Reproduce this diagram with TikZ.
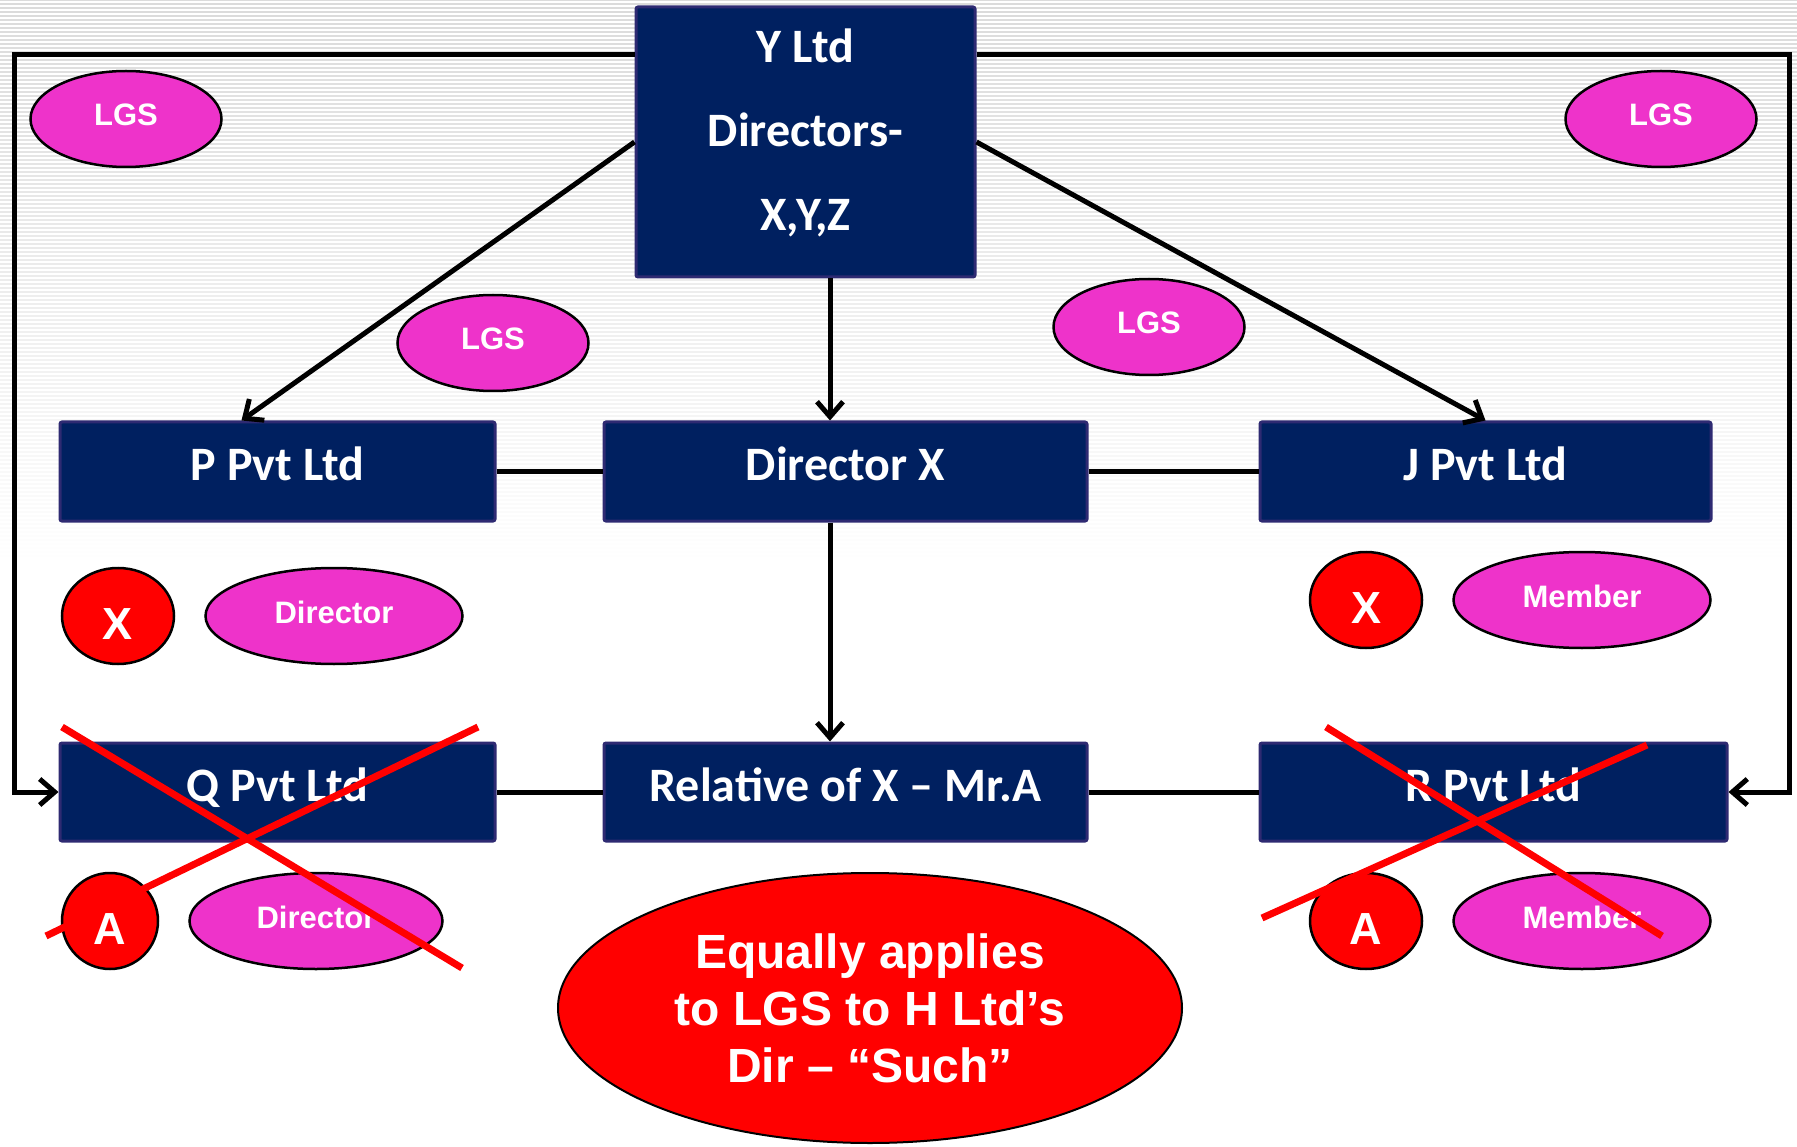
\documentclass[tikz,border=0pt]{standalone}
\usepackage{fontspec}
\setmainfont{Liberation Sans}
\newfontfamily\boxfont{Carlito}
\usetikzlibrary{arrows.meta,calc,shapes.geometric}
\definecolor{navy}{HTML}{002060}
\definecolor{navyedge}{HTML}{2E2A72}
\definecolor{pinkfill}{HTML}{EE33CA}
\definecolor{redfill}{HTML}{FF0000}
\begin{document}
\begin{tikzpicture}[x=1pt,y=-1pt,
  corp/.style={draw=navyedge, line width=3pt, fill=navy, text=white,
    font=\boxfont\bfseries\fontsize{48}{84}\selectfont,
    rounded corners=2pt, inner sep=0pt, align=center, text depth=16pt},
  oneline/.style={text height=34pt},
  tag/.style={ellipse, draw=black, line width=2.5pt, fill=pinkfill, text=white,
    font=\bfseries\fontsize{31}{36}\selectfont, inner sep=0pt,
    minimum height=96pt, text height=22pt, text depth=8pt},
  roundmark/.style={ellipse, draw=black, line width=2.5pt, fill=redfill, text=white,
    font=\bfseries\fontsize{45}{50}\selectfont, inner sep=0pt,
    minimum height=96pt, text height=46pt, text depth=0pt},
  conn/.style={draw=black, line width=5pt},
  arrowed/.style={conn, -{Straight Barb[length=15pt,width=26pt]}},
  cross/.style={draw=redfill, line width=7pt}
]
% canvas and faded horizontal ruling at the top
\useasboundingbox (0,0) rectangle (1797,1147);
\fill[white] (0,0) rectangle (1797,1147);
\foreach \k in {0,...,139}{
  \pgfmathsetmacro{\op}{1-\k/140}
  \draw[gray!28, line width=1.5pt, opacity=\op] (0,4*\k) -- (1797,4*\k);
}

% companies
\node[corp, text depth=24pt, minimum width=339pt, minimum height=270pt] (Y) at (805.5,142)
  {Y Ltd\\Directors-\\X,Y,Z};
\node[corp, oneline, minimum width=435pt, minimum height=99pt] (P) at (277.5,471.5) {P Pvt Ltd};
\node[corp, oneline, minimum width=483pt, minimum height=99pt] (DX) at (845.5,471.5) {Director X};
\node[corp, oneline, minimum width=451pt, minimum height=99pt] (J) at (1485.5,471.5) {J Pvt Ltd};
\node[corp, oneline, minimum width=435pt, minimum height=98pt] (Q) at (277.5,792) {Q Pvt Ltd};
\node[corp, oneline, minimum width=483pt, minimum height=98pt] (Rel) at (845.5,792) {Relative of X – Mr.A};
\node[corp, oneline, minimum width=467pt, minimum height=98pt] (R) at (1493.5,792) {R Pvt Ltd};

% tags
\node[tag, minimum width=191pt] (lgs1) at (126,119) {LGS};
\node[tag, minimum width=191pt] (lgs2) at (1661,119) {LGS};
\node[tag, minimum width=191pt] (lgs3) at (493,343) {LGS};
\node[tag, minimum width=191pt] (lgs4) at (1149,327) {LGS};
\node[roundmark, minimum width=112pt] (xp) at (118,616) {X};
\node[tag, minimum width=257pt] (dirp) at (334,616) {Director};
\node[roundmark, minimum width=112pt] (xj) at (1366,600) {X};
\node[tag, minimum width=257pt] (memj) at (1582,600) {Member};
\node[roundmark, minimum width=96pt] (aq) at (110,921) {A};
\node[tag, minimum width=253pt] (dirq) at (316,921) {Director};
\node[roundmark, minimum width=112pt] (ar) at (1366,921) {A};
\node[tag, minimum width=257pt] (memr) at (1582,921) {Member};
\node[ellipse, draw=black, line width=2pt, fill=redfill, text=white,
  minimum width=624pt, minimum height=270pt, inner sep=0pt, align=center,
  font=\bfseries\fontsize{48}{57}\selectfont] (note) at (870,1008)
  {Equally applies\\to LGS to H Ltd’s\\Dir – “Such”};

% connectors
\coordinate (ftl) at (14,55);
\coordinate (ftr) at (1789,55);
\coordinate (vx) at (830,0);
\draw[arrowed] (Y.west |- ftl) -- (ftl) |- (Q.west);
\draw[arrowed] (Y.east |- ftr) -- (ftr) |- (R.east);
\draw[arrowed] (Y.west) -- ([xshift=-36pt]P.north);
\draw[arrowed] (Y.east) -- (J.north);
\draw[arrowed] (Y.south -| vx) -- (DX.north -| vx);
\draw[arrowed] (DX.south -| vx) -- (Rel.north -| vx);
\draw[conn] (P.east) -- (DX.west);
\draw[conn] (DX.east) -- (J.west);
\draw[conn] (Q.east) -- (Rel.west);
\draw[conn] (Rel.east) -- (R.west);

% struck-out entries
\draw[cross] (62,727) -- (462,968);
\draw[cross] (478,727) -- (46,936);
\draw[cross] (1326,727) -- (1662,936);
\draw[cross] (1647,745) -- (1262,918);
\end{tikzpicture}
\end{document}
